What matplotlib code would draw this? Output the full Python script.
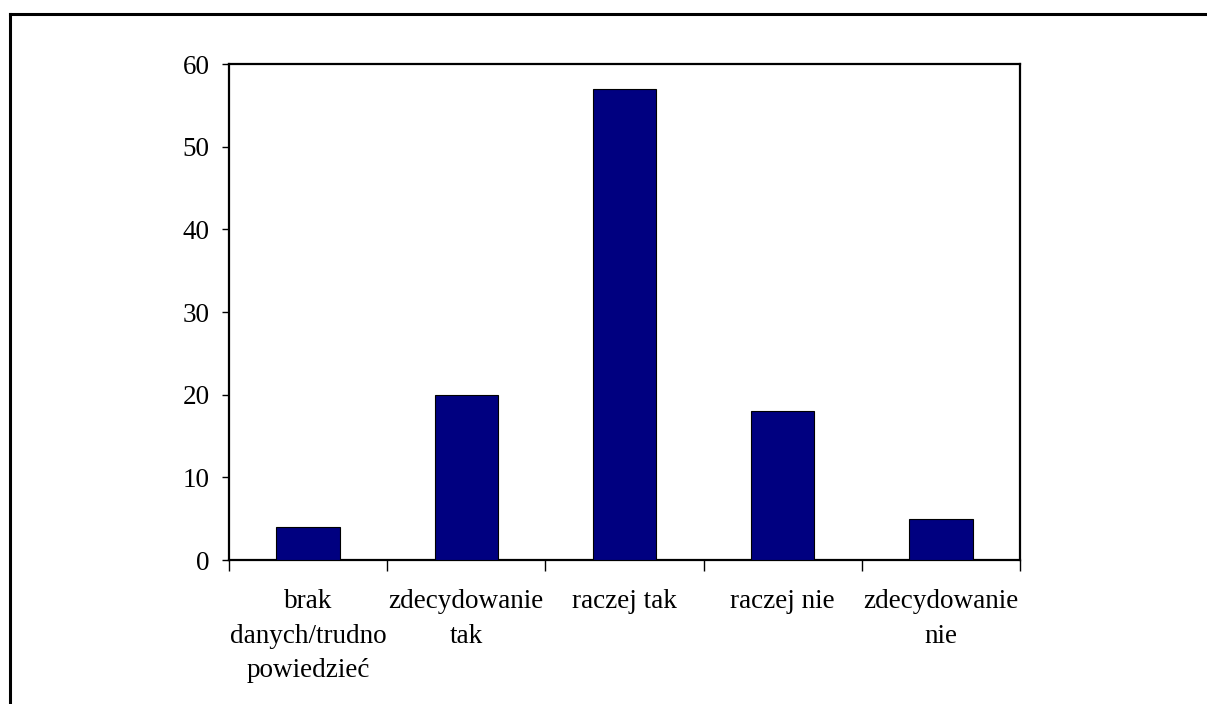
import matplotlib
matplotlib.use("Agg")
import matplotlib.pyplot as plt
from matplotlib.lines import Line2D
import numpy as np

categories = ["brak\ndanych/trudno\npowiedzieć", "zdecydowanie\ntak", "raczej tak",
              "raczej nie", "zdecydowanie\nnie"]
values = [4, 20, 57, 18, 5]
yticks = [0, 10, 20, 30, 40, 50, 60]

plt.rcParams['font.family'] = ['Liberation Serif', 'DejaVu Serif']

W, H = 1207, 704
fig = plt.figure(figsize=(W / 100, H / 100), dpi=100)
ax = fig.add_axes([229 / W, 1 - 560 / H, (1020 - 229) / W, (560 - 64) / H])

x = np.arange(len(categories))
ax.bar(x, values, width=0.4, color="#000080", edgecolor="black", linewidth=0.8, zorder=3)

ax.set_xlim(-0.5, len(categories) - 0.5)
ax.set_ylim(0, 60)
ax.set_yticks(yticks)
ax.set_yticklabels([str(v) for v in yticks], fontsize=19.5)
ax.tick_params(axis="y", length=5, width=1, pad=9, direction="out")

ax.set_xticks(x)
ax.set_xticklabels(categories, fontsize=19.5, linespacing=1.5, va="top")
ax.tick_params(axis="x", which="major", length=0, pad=21)
ax.set_xticks(np.arange(len(categories) + 1) - 0.5, minor=True)
ax.tick_params(axis="x", which="minor", length=8, width=1, direction="out")

for s in ax.spines.values():
    s.set_linewidth(1.6)
    s.set_color("black")

# outer frame (top and left edges)
fig.add_artist(Line2D([10 / W, 1.0], [1 - 14 / H, 1 - 14 / H], color="black",
                      linewidth=2.2, transform=fig.transFigure))
fig.add_artist(Line2D([10 / W, 10 / W], [1 - 14 / H, 0.0], color="black",
                      linewidth=2.2, transform=fig.transFigure))

fig.savefig("out.png", dpi=100, facecolor="white")
